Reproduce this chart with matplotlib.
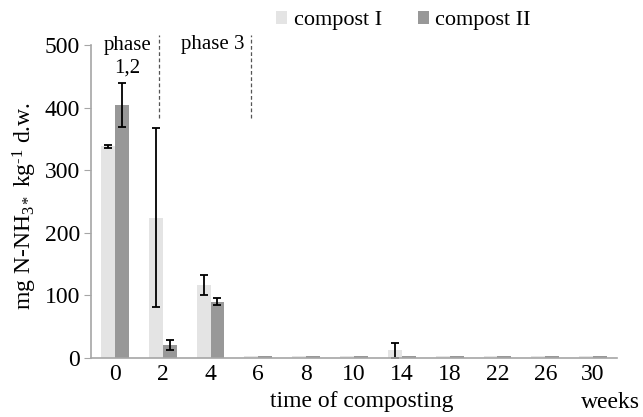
import numpy as np
import matplotlib
matplotlib.use("Agg")
from matplotlib import pyplot as plt

plt.rcParams['font.family'] = ['Liberation Serif', 'DejaVu Serif']
plt.rcParams['mathtext.fontset'] = 'custom'
plt.rcParams['mathtext.rm'] = 'Liberation Serif'
plt.rcParams['mathtext.it'] = 'Liberation Serif:italic'
plt.rcParams['mathtext.default'] = 'rm'

weeks = ['0', '2', '4', '6', '8', '10', '14', '18', '22', '26', '30']
compost1 = [338, 224, 116, 2.5, 2.5, 2.5, 12, 2.5, 2.5, 2.5, 2.5]
compost1_err = [3, 143, 16, 0, 0, 0, 12, 0, 0, 0, 0]
compost2 = [404, 21, 90, 2.5, 2.5, 2.5, 2.5, 2.5, 2.5, 2.5, 2.5]
compost2_err = [35, 8, 6, 0, 0, 0, 0, 0, 0, 0, 0]

c1 = '#e4e4e4'
c2 = '#989898'
grey = '#a6a6a6'
fs = 17

fig = plt.figure(figsize=(6.43, 4.17), dpi=100)
ax = fig.add_axes([91 / 643, 1 - 358 / 417, 526 / 643, 313 / 417])

x = np.arange(len(weeks))
w = 0.29
err1 = [e if e > 0 else np.nan for e in compost1_err]
err2 = [e if e > 0 else np.nan for e in compost2_err]
ax.bar(x - w / 2, compost1, w, color=c1, label='compost I')
ax.bar(x + w / 2, compost2, w, color=c2, label='compost II')
ax.errorbar(x - w / 2, compost1, yerr=err1, fmt='none', ecolor='black',
            elinewidth=1.3, capsize=3, capthick=1.3)
ax.errorbar(x + w / 2, compost2, yerr=err2, fmt='none', ecolor='black',
            elinewidth=1.3, capsize=3, capthick=1.3)

ax.set_xlim(-0.5, len(weeks) - 0.5)
ax.set_ylim(0, 500)
ax.set_yticks([0, 100, 200, 300, 400, 500])
ax.set_xticks(x)
ax.set_xticklabels(weeks)
ax.tick_params(axis='x', length=0, labelsize=fs, pad=4)
ax.tick_params(axis='y', length=5, color=grey, labelsize=fs, pad=3)
for s in ['top', 'right']:
    ax.spines[s].set_visible(False)
for s in ['left', 'bottom']:
    ax.spines[s].set_color(grey)
    ax.spines[s].set_linewidth(1.2)

# phase separators
for xv in [0.92, 2.85]:
    ax.plot([xv, xv], [383, 516], ls=(0, (3, 2)), color='#555555', lw=0.9,
            clip_on=False)
ax.text(0.26, 481, 'phase\n1,2', ha='center', va='center', fontsize=15,
        linespacing=1.2)
ax.text(2.04, 500, 'phase 3', ha='center', va='center', fontsize=15)

fig.text(25 / 643, 1 - 206 / 417, 'mg N-NH$_{3*}$ kg$^{\u20101}$ d.w.',
         rotation=90, ha='center', va='center', fontsize=fs)
fig.text(362 / 643, 1 - 402 / 417, 'time of composting', ha='center',
         va='center', fontsize=fs)
fig.text(640 / 643, 1 - 402 / 417, 'weeks', ha='right', va='center',
         fontsize=fs)

ax.legend(loc='upper left', bbox_to_anchor=(265 / 643, 1.0),
          bbox_transform=fig.transFigure, ncol=2, frameon=False, fontsize=16,
          handlelength=0.5, handleheight=0.5, handletextpad=0.3,
          columnspacing=1.6, borderaxespad=0.1)

fig.savefig('out.png', dpi=100)
